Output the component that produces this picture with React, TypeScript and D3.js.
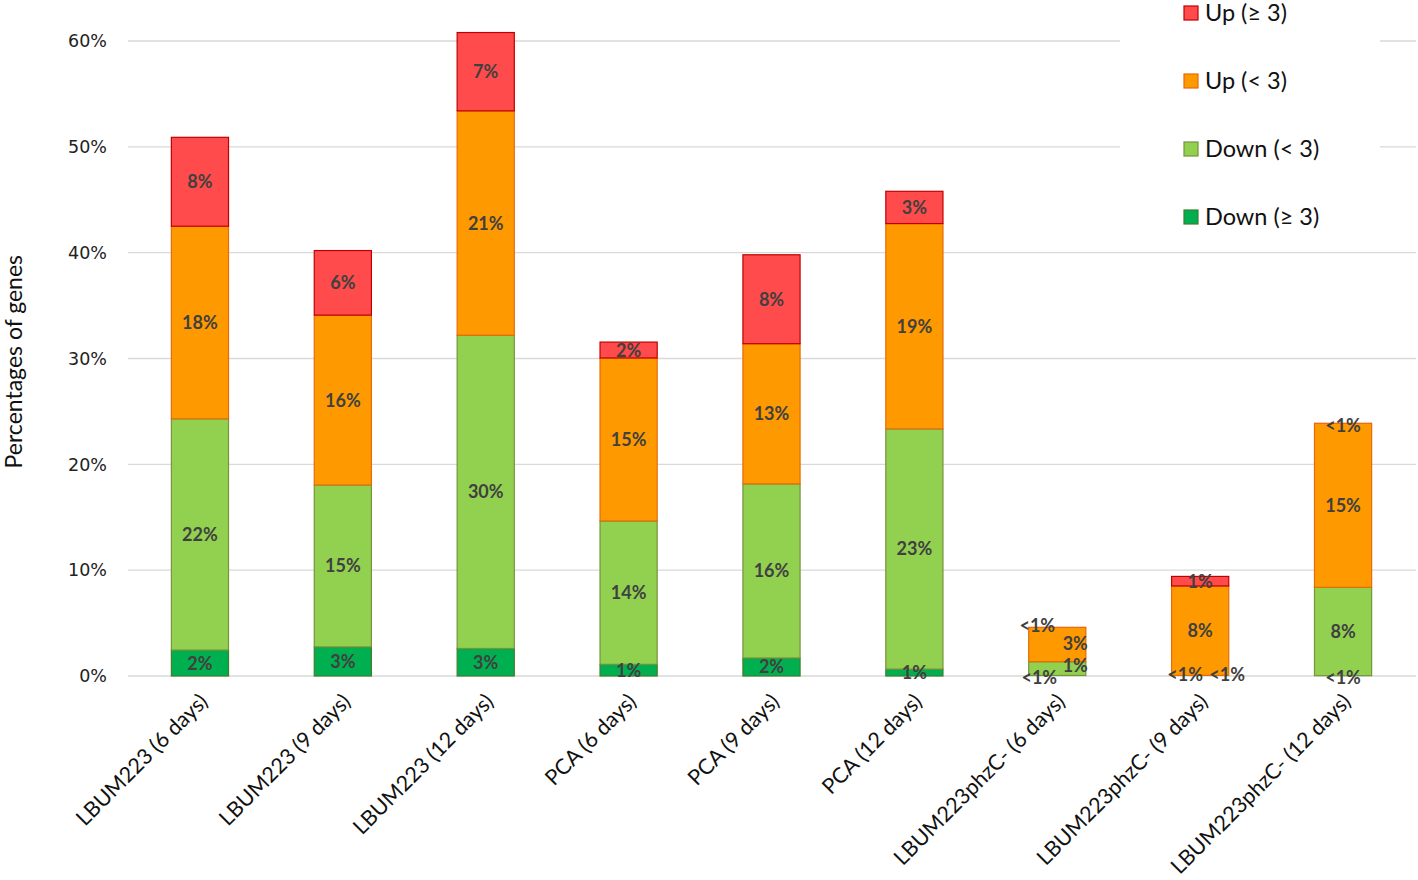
import React from "react";
import * as d3 from "d3";

const categories = [
  "LBUM223 (6 days)",
  "LBUM223 (9 days)",
  "LBUM223 (12 days)",
  "PCA (6 days)",
  "PCA (9 days)",
  "PCA (12 days)",
  "LBUM223phzC- (6 days)",
  "LBUM223phzC- (9 days)",
  "LBUM223phzC- (12 days)",
];

const seriesNames = ["Down (≥ 3)", "Down (< 3)", "Up (< 3)", "Up (≥ 3)"];

const downHigh = [2.45, 2.75, 2.6, 1.1, 1.7, 0.65, 0.05, 0.03, 0.03];
const downLow = [21.85, 15.3, 29.6, 13.55, 16.45, 22.7, 1.3, 0.03, 8.35];
const upLow = [18.2, 16.05, 21.2, 15.4, 13.25, 19.4, 3.25, 8.45, 15.5];
const upHigh = [8.4, 6.1, 7.4, 1.5, 8.4, 3.05, 0.02, 0.9, 0.02];

const labelsDownHigh = ["2%", "3%", "3%", "1%", "2%", "1%", "<1%", "<1%", "<1%"];
const labelsDownLow = ["22%", "15%", "30%", "14%", "16%", "23%", "1%", "<1%", "8%"];
const labelsUpLow = ["18%", "16%", "21%", "15%", "13%", "19%", "3%", "8%", "15%"];
const labelsUpHigh = ["8%", "6%", "7%", "2%", "8%", "3%", "<1%", "1%", "<1%"];

const yTicks = [0, 10, 20, 30, 40, 50, 60];

const fills = ["#00b050", "#92d050", "#ff9900", "#ff4b4b"];
const strokes = ["#3f7f2a", "#77933c", "#e46c0a", "#c00000"];

// manual label nudges (series index, category index) -> [dx, dy]
const nudges: Record<string, [number, number]> = {
  "0-6": [-18, 2],
  "1-6": [18, -3],
  "2-6": [18, -1],
  "3-6": [-20, -2],
  "0-7": [-15, -1],
  "1-7": [27, -1],
  "0-8": [0, 2],
  "3-8": [0, 2],
};

export default function App() {
  const W = 1418;
  const H = 880;
  const x = d3.scaleBand<string>().domain(categories).range([128.5, 1414.5]).paddingInner(0.6).paddingOuter(0.3);
  const y = d3.scaleLinear().domain([0, 60]).range([676, 41]);

  const series = [downHigh, downLow, upLow, upHigh];
  const labels = [labelsDownHigh, labelsDownLow, labelsUpLow, labelsUpHigh];
  const table = categories.map((c, i) => {
    const o: any = { cat: c };
    seriesNames.forEach((s, k) => (o[s] = series[k][i]));
    return o;
  });
  const stacked = d3.stack<any>().keys(seriesNames)(table);

  const bw = x.bandwidth();
  const labelFont = "Lato, 'Open Sans', sans-serif";

  return (
    <svg width={W} height={H} style={{ position: "absolute", left: 0, top: 0, background: "#fff" }}>
      <rect x={0} y={0} width={W} height={H} fill="#fff" />
      {yTicks.map((t) => (
        <g key={t}>
          <line x1={128} x2={1416} y1={y(t)} y2={y(t)} stroke="#d9d9d9" strokeWidth={1.3} />
          <text x={107} y={y(t)} dy="0.36em" textAnchor="end" fontFamily="'DejaVu Sans', sans-serif" fontSize={17.5} fill="#222">
            {t}%
          </text>
        </g>
      ))}
      <text
        transform={`translate(22,${y(29.7)}) rotate(-90)`}
        textAnchor="middle"
        fontFamily={labelFont}
        fontSize={23}
        fill="#111"
      >
        Percentages of genes
      </text>
      {stacked.map((s, k) => (
        <g key={k}>
          {s.map((d, i) => (
            <rect
              key={i}
              x={x(categories[i])!}
              y={y(d[1])}
              width={bw}
              height={Math.max(0, y(d[0]) - y(d[1]))}
              fill={fills[k]}
              stroke={series[k][i] < 0.1 ? "none" : strokes[k]}
              strokeWidth={1.2}
            />
          ))}
        </g>
      ))}
      {stacked.map((s, k) => (
        <g key={"l" + k}>
          {s.map((d, i) => {
            const n = nudges[`${k}-${i}`] || [0, 0];
            const cx = x(categories[i])! + bw / 2 + n[0];
            const cy = (y(d[0]) + y(d[1])) / 2 + n[1];
            return (
              <text
                key={i}
                x={cx}
                y={cy}
                dy="0.36em"
                textAnchor="middle"
                fontFamily={labelFont}
                fontWeight="bold"
                fontSize={18}
                fill="#404040"
              >
                {labels[k][i]}
              </text>
            );
          })}
        </g>
      ))}
      {categories.map((c) => (
        <text
          key={c}
          transform={`translate(${x(c)! + bw / 2 + 9},${703}) rotate(-45)`}
          textAnchor="end"
          fontFamily={labelFont}
          fontSize={21.5}
          fill="#111"
        >
          {c}
        </text>
      ))}
      <rect x={1120} y={0} width={260} height={238} fill="#fff" />
      {[3, 2, 1, 0].map((k, j) => (
        <g key={k} transform={`translate(1184,${13 + j * 68})`}>
          <rect x={0} y={-7} width={14} height={14} fill={fills[k]} stroke={strokes[k]} strokeWidth={1.2} />
          <text x={21} y={0} dy="0.36em" fontFamily={labelFont} fontSize={23.5} fill="#111">
            {seriesNames[k]}
          </text>
        </g>
      ))}
    </svg>
  );
}
